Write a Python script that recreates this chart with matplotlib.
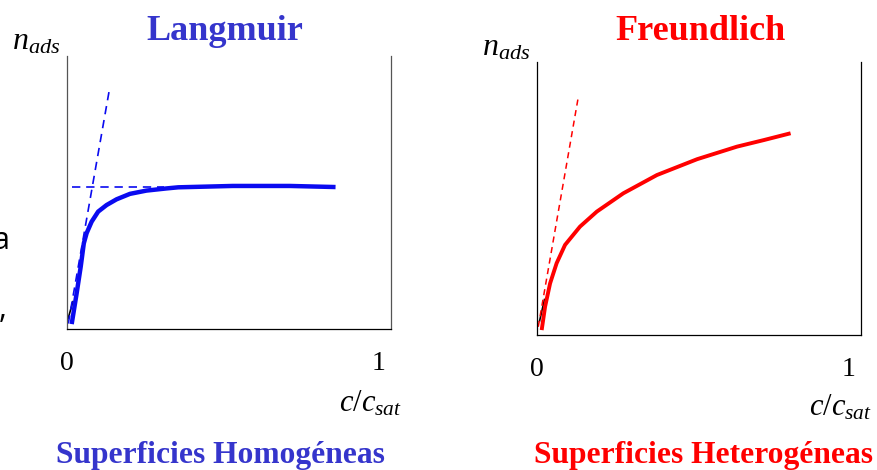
import matplotlib.pyplot as plt
import numpy as np

plt.rcParams['mathtext.fontset'] = 'custom'
plt.rcParams['mathtext.rm'] = 'Liberation Serif'
plt.rcParams['mathtext.it'] = 'Liberation Serif:italic'
plt.rcParams['font.family'] = 'Liberation Serif'

# values (x = c/c_sat, y = n_ads as fraction of axis height)
lang_x = [0.015, 0.031, 0.044, 0.054, 0.063, 0.079, 0.100, 0.127, 0.159,
          0.202, 0.255, 0.320, 0.357, 0.532, 0.715, 0.862]
lang_y = [0.018, 0.131, 0.228, 0.314, 0.351, 0.393, 0.430, 0.454, 0.475,
          0.495, 0.507, 0.515, 0.519, 0.524, 0.524, 0.520]
lang_tan_x = [0.004, 0.135]
lang_tan_y = [0.02, 0.87]
lang_plateau_x = [0.016, 0.31]
lang_plateau_y = [0.52, 0.52]
lang_mark_x = [0.004, 0.019]
lang_mark_y = [0.04, 0.10]

freu_x = [0.015, 0.026, 0.042, 0.063, 0.090, 0.138, 0.192, 0.277, 0.385,
          0.514, 0.642, 0.728, 0.814]
freu_y = [0.018, 0.104, 0.189, 0.263, 0.330, 0.397, 0.452, 0.519, 0.586,
          0.644, 0.690, 0.714, 0.739]
freu_tan_x = [0.004, 0.132]
freu_tan_y = [0.03, 0.868]
freu_mark_x = [0.008, 0.024]
freu_mark_y = [0.05, 0.13]

tick_pos = [0, 1]
tick_labels = ['0', '1']

W, H = 877, 470
fig = plt.figure(figsize=(W / 100, H / 100), dpi=100)


def px(x, y):
    return x / W, 1 - y / H


def make_axes(left, top, spine_color):
    ax = fig.add_axes([left / W, 1 - (top + 273) / H, 324 / W, 273 / H])
    ax.set_xlim(0, 1.04)
    ax.set_ylim(0, 1)
    ax.spines['top'].set_visible(False)
    for s in ['left', 'right', 'bottom']:
        ax.spines[s].set_linewidth(0.9)
        ax.spines[s].set_color(spine_color)
    ax.spines['bottom'].set_color('black')
    ax.set_yticks([])
    ax.set_xticks(tick_pos, tick_labels, fontsize=20)
    ax.tick_params(axis='x', length=0, pad=16)
    return ax


blue = '#0a0af0'
title_blue = '#3535cc'
red = '#ff0000'

ax1 = make_axes(67, 56, '#555555')
ax1.plot(lang_mark_x, lang_mark_y, color='black', lw=1.2)
ax1.plot(lang_x, lang_y, color=blue, lw=3.2, solid_capstyle='butt',
         solid_joinstyle='round')
ax1.plot(lang_tan_x, lang_tan_y, color=blue, lw=1.2, ls=(0, (5, 3.5)))
ax1.plot(lang_plateau_x, lang_plateau_y, color=blue, lw=1.2, ls=(0, (5, 3.5)))

ax2 = make_axes(537, 62, 'black')
ax2.plot(freu_mark_x, freu_mark_y, color='black', lw=1.2)
ax2.plot(freu_x, freu_y, color=red, lw=2.8, solid_capstyle='butt',
         solid_joinstyle='round')
ax2.plot(freu_tan_x, freu_tan_y, color=red, lw=1.1, ls=(0, (4, 3)))

# titles and labels
fig.text(*px(225, 40), 'Langmuir', color=title_blue, fontsize=26,
         fontweight='bold', ha='center', va='baseline')
fig.text(*px(700, 40), 'Freundlich', color=red, fontsize=26,
         fontweight='bold', ha='center', va='baseline')
fig.text(*px(12, 50), r'$n_{ads}$', fontsize=23, ha='left', va='baseline')
fig.text(*px(482, 55), r'$n_{ads}$', fontsize=23, ha='left', va='baseline')
fig.text(*px(402, 411), r'$c/c_{sat}$', fontsize=22, ha='right', va='baseline')
fig.text(*px(872, 416), r'$c/c_{sat}$', fontsize=22, ha='right', va='baseline')
fig.text(*px(220, 463), 'Superficies Homogéneas', color=title_blue,
         fontsize=22.7, fontweight='bold', ha='center', va='baseline')
fig.text(*px(704, 463), 'Superficies Heterogéneas', color=red,
         fontsize=22.7, fontweight='bold', ha='center', va='baseline')

# cut-off slide text at the left edge
fig.text(*px(-7, 249), 'a', fontsize=22, family='Open Sans', va='baseline')
fig.text(*px(-1, 318), ',', fontsize=22, family='Open Sans', va='baseline')

fig.savefig('out.png', dpi=100)
